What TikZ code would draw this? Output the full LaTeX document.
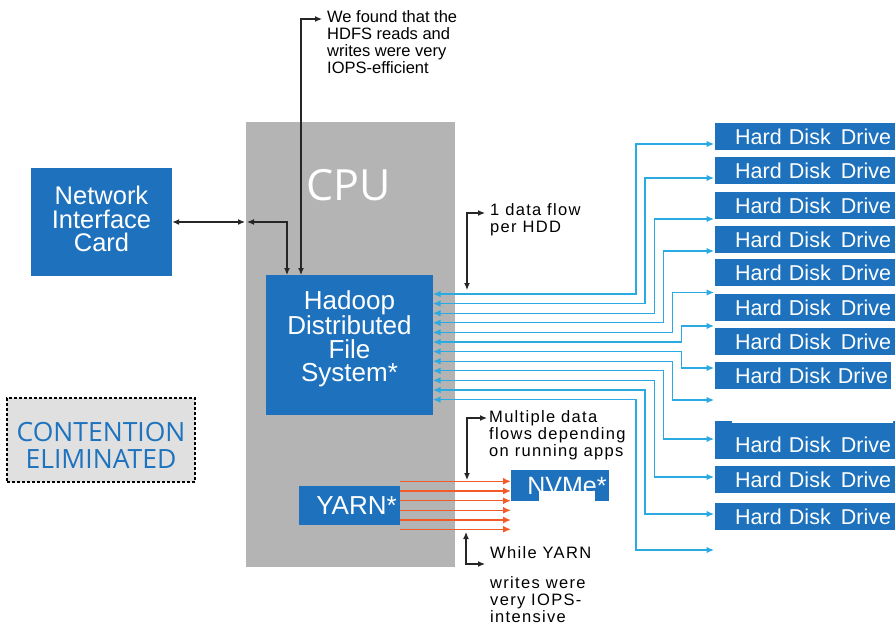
\documentclass[tikz,border=0pt]{standalone}
\usepackage{fontspec}
\setmainfont{Liberation Sans}
\newfontfamily\opensans{Open Sans}
\newfontfamily\widefont[LetterSpace=8]{Liberation Sans}
\usetikzlibrary{arrows.meta}
\definecolor{boxblue}{RGB}{30,114,189}
\definecolor{cpugray}{RGB}{179,180,179}
\definecolor{contgray}{RGB}{224,224,224}
\definecolor{flowblue}{RGB}{41,170,226}
\definecolor{flowred}{RGB}{241,90,41}
\definecolor{contblue}{RGB}{30,115,190}
\begin{document}
\begin{tikzpicture}[x=1pt,y=-1pt,
  box/.style={fill=boxblue,text=white,inner sep=0pt,align=center},
  boxtext/.style={text=white,inner sep=0pt,align=center},
  ann/.style={font=\fontsize{16.5}{17}\selectfont, align=left, anchor=west, inner sep=0pt},
  annw/.style={ann, font=\widefont\fontsize{16.5}{17}\selectfont},
  blk/.style={draw=black!85, line width=1.2pt, {Latex[length=7pt,width=6pt]}-{Latex[length=7pt,width=6pt]}},
  flow/.style={draw=flowblue, line width=1.2pt, {Latex[length=7.5pt,width=6.5pt]}-{Latex[length=7.5pt,width=6.5pt]}},
  wflow/.style={draw=flowred, line width=1.4pt, -{Latex[length=8pt,width=7pt]}},
  hdd/.style={box, anchor=west, minimum height=27pt, text width=180pt, align=left, font=\fontsize{21.5}{22}\selectfont}
]
\useasboundingbox (0,0) rectangle (895,626);

% CPU
\node[fill=cpugray, minimum width=209pt, minimum height=445pt, inner sep=0pt] (cpu) at (350.5,344.5) {};
\node[text=white, font=\opensans\fontsize{43}{43}\selectfont, inner sep=0pt] (cpulbl) at (349,185) {CPU};

% NIC
\node[box, minimum width=141pt, minimum height=108pt] (nic) at (101.5,222) {};
\node[boxtext, font=\fontsize{25.5}{23.5}\selectfont] (niclbl) at (101.5,219) {Network\\Interface\\Card};

% HDFS
\node[box, minimum width=167pt, minimum height=140pt] (hdfs) at (349.5,345) {};
\node[boxtext, font=\fontsize{26}{23.5}\selectfont] (hdfslbl) at (349.5,339) {Hadoop\\Distributed\\File\\System*};

% YARN
\node[box, minimum width=101pt, minimum height=39pt] (yarn) at (349.5,505.5) {};
\node[boxtext, font=\fontsize{26}{26}\selectfont] (yarnlbl) at (356.5,505.5) {YARN*};

% NVMe
\node[box, minimum width=98pt, minimum height=31pt] (nvme) at (560,485.5) {};
\node[boxtext, font=\fontsize{25}{25}\selectfont] (nvmelbl) at (567,486) {NVMe*};
\fill[white] (539,491) rectangle (595,502);

% Contention
\node[fill=contgray, draw=black, dash pattern=on 3pt off 2pt, line width=1.1pt,
      minimum width=188pt, minimum height=84pt, inner sep=0pt] (cont) at (101,440) {};
\node[inner sep=0pt, align=center, text=contblue, font=\opensans\fontsize{26.5}{27}\selectfont]
      (contlbl) at (101,445) {CONTENTION\\ELIMINATED};

% HDD boxes
\foreach \i/\yc in {1/136.5,2/170.5,3/205.5,4/239.5,5/272.5,6/307.5,7/341.5,10/479.5,11/516.5}{
  \node[hdd] (hdd\i) at (715,\yc) {\hspace*{20pt}Hard Disk\hspace{3pt} Drive};
}
\node[hdd, text width=176pt] (hdd8) at (715,375.5) {\hspace*{20pt}Hard Disk Drive};
\node[hdd, minimum height=38pt] (hdd9) at (715,440) {\hspace*{20pt}\raisebox{-5pt}[\height][0pt]{Hard Disk\hspace{3pt} Drive}};
\fill[white] (732,420.5) rectangle (893,423.3);

% blue data flows
\foreach \i/\ys/\bx/\ye in {1/294/636/144,2/303.6/645/178,3/313.2/654.5/219,4/322.8/663.5/251,
  5/332.4/672.5/292.5,6/342/681.5/326,7/351.6/681.5/368,8/361.2/672.5/400,
  9/370.8/663.5/439,10/380.4/654.5/477,11/390/645/514,12/399.6/636/550}{
  \coordinate (hin\i) at (433,\ys);
  \coordinate (hout\i) at (714,\ye);
  \draw[flow] (hin\i) -- (\bx,\ys) |- (hout\i);
}

% orange YARN flows
\foreach \i/\y in {1/481.3,2/491,3/500.7,4/510.3,5/520,6/529.3}{
  \coordinate (yin\i) at (400,\y);
  \coordinate (yout\i) at (511,\y);
  \draw[wflow] (yin\i) -- (yout\i);
}

% black connectors
\coordinate (cpuin) at (245,222);
\coordinate (cpuin2) at (247,222);
\coordinate (hdfsa) at (287,275);
\coordinate (hdfsb) at (301,275);
\coordinate (notea) at (322,19);
\draw[blk] (nic.east) -- (cpuin);
\draw[blk] (cpuin2) -| (hdfsa);
\draw[blk] (hdfsb) |- (notea);

\coordinate (fa) at (467,290);
\coordinate (fb) at (485,213);
\draw[blk] (fa) |- (fb);
\coordinate (ma) at (467,480);
\coordinate (mb) at (487,418);
\draw[blk] (ma) |- (mb);
\coordinate (wa) at (466,532);
\coordinate (wb) at (485,564);
\draw[blk] (wa) |- (wb);

% annotations
\node[ann] (note1) at (327,42.5) {We found that the\\HDFS reads and\\writes were very\\IOPS-efficient};
\node[annw] (note2) at (490,220) {1 data flow\\per HDD};
\node[annw] (note3) at (489,435) {Multiple data\\flows depending\\on running apps};
\node[annw] (note4) at (490,553) {While YARN};
\node[annw] (note5) at (490,600) {writes were\\very IOPS-\\intensive};
\end{tikzpicture}
\end{document}
